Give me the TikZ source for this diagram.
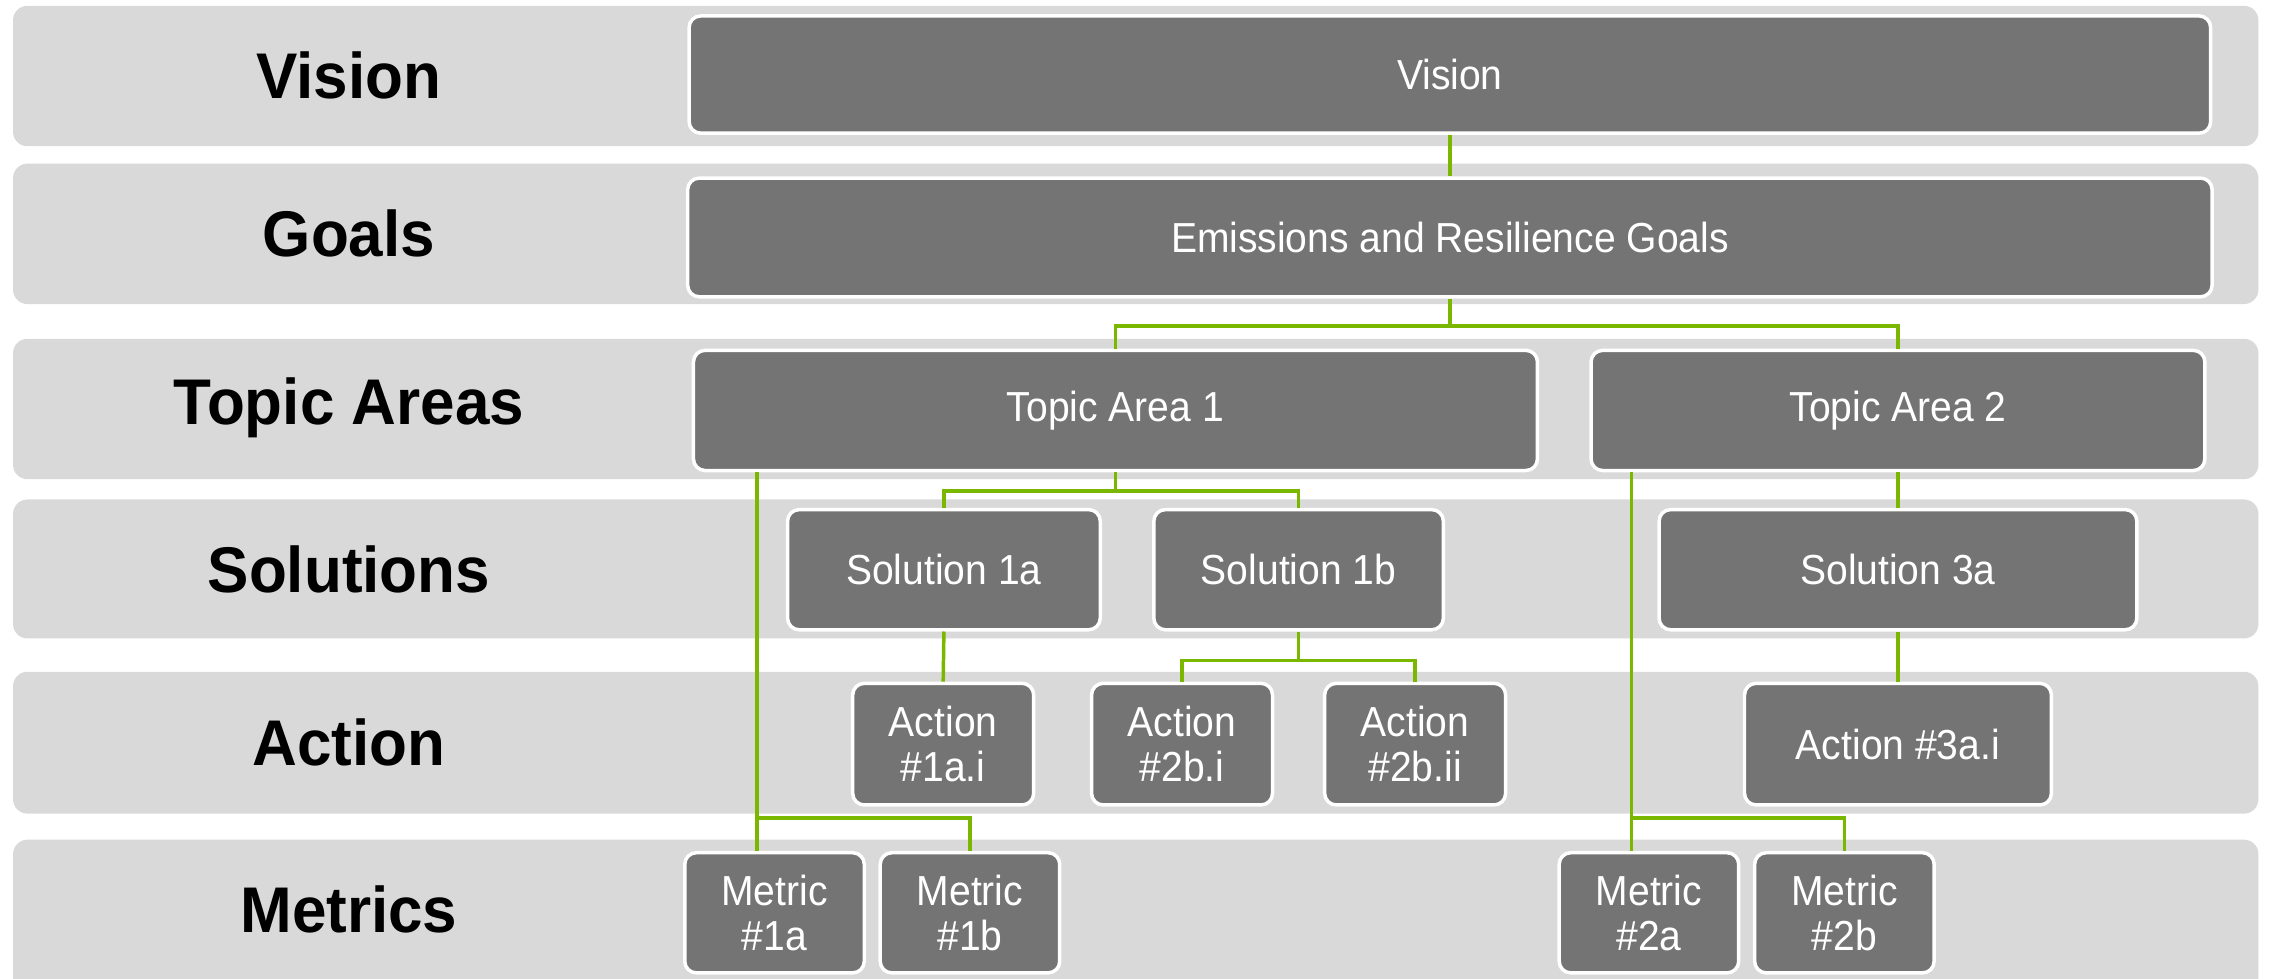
\documentclass[tikz,border=0pt]{standalone}
\usepackage{fontspec}
\setmainfont{Liberation Sans}
\newfontfamily\boxfont[FakeStretch=0.93]{Liberation Sans}
\newfontfamily\labelfont[FakeStretch=0.96]{Liberation Sans}
\definecolor{bandgray}{HTML}{D9D9D9}
\definecolor{boxgray}{HTML}{747474}
\definecolor{linkgreen}{RGB}{122,184,0}
\tikzset{
  band/.style={fill=bandgray, draw=none, rounded corners=5pt},
  bandlabel/.style={font=\labelfont\fontsize{22.3pt}{24pt}\selectfont\bfseries, text=black, anchor=center},
  box/.style={fill=boxgray, draw=white, line width=1.2pt, rounded corners=4pt,
    text=white, align=center, inner sep=0pt,
    font=\boxfont\fontsize{14.5pt}{15.5pt}\selectfont},
  conn/.style={draw=linkgreen, line width=1.2pt}
}
\newcommand\mybox[6]{%
  \node[box, minimum width={(#4-#2)*0.5pt}, minimum height={(#5-#3)*0.5pt}]
    (#1) at ({(#2+#4)/2},{(#3+#5)/2}) {#6};}
\begin{document}
\begin{tikzpicture}[x=0.5pt, y=-0.5pt]
\useasboundingbox (0,0) rectangle (1568,676);
\clip (0,0) rectangle (1568,676);
\fill[white] (0,0) rectangle (1568,676);
% bands
\path[band] (9,4) rectangle (1560,101);
\path[band] (9,113) rectangle (1560,210);
\path[band] (9,234) rectangle (1560,331);
\path[band] (9,345) rectangle (1560,441);
\path[band] (9,464) rectangle (1560,562);
\path[band] (9,580) rectangle (1560,700);
% band labels
\node[bandlabel] (lv) at (241,52) {Vision};
\node[bandlabel] (lg) at (241,161) {Goals};
\node[bandlabel] (lt) at (241,282) {Topic Areas};
\node[bandlabel] (ls) at (241,393) {Solutions};
\node[bandlabel] (la) at (241,513) {Action};
\node[bandlabel] (lm) at (241,628) {Metrics};
% boxes
\mybox{vision}{476}{11}{1527}{92}{Vision}
\mybox{goals}{475}{123}{1528}{205}{Emissions and Resilience Goals}
\mybox{ta1}{479}{242}{1062}{325}{Topic Area 1}
\mybox{ta2}{1099}{242}{1523}{325}{Topic Area 2}
\mybox{s1a}{544}{352}{760}{435}{Solution 1a}
\mybox{s1b}{797}{352}{997}{435}{Solution 1b}
\mybox{s3a}{1146}{352}{1476}{435}{Solution 3a}
\mybox{a1ai}{589}{472}{714}{556}{Action\\\#1a.i}
\mybox{a2bi}{754}{472}{879}{556}{Action\\\#2b.i}
\mybox{a2bii}{915}{472}{1040}{556}{Action\\\#2b.ii}
\mybox{a3ai}{1205}{472}{1417}{556}{Action \#3a.i}
\mybox{m1a}{473}{589}{597}{672}{Metric\\\#1a}
\mybox{m1b}{608}{589}{732}{672}{Metric\\\#1b}
\mybox{m2a}{1077}{589}{1201}{672}{Metric\\\#2a}
\mybox{m2b}{1212}{589}{1336}{672}{Metric\\\#2b}
% connectors
\draw[conn] (vision.south) -- (goals.north);
\draw[conn] (goals.south) -- ++(0,19) -| (ta1.north);
\draw[conn] (goals.south) -- ++(0,19) -| (ta2.north);
\draw[conn] (ta1.south) -- ++(0,13) -| (s1a.north);
\draw[conn] (ta1.south) -- ++(0,13) -| (s1b.north);
\draw[conn] (s1a.south) -- (a1ai.north);
\draw[conn] (s1b.south) -- ++(0,20) -| (a2bi.north);
\draw[conn] (s1b.south) -- ++(0,20) -| (a2bii.north);
\draw[conn] (ta2.south) -- (s3a.north);
\draw[conn] (s3a.south) -- (a3ai.north);
\coordinate (j1) at (523,565);
\coordinate (j2) at (1127,565);
\draw[conn] (ta1.south -| j1) -- (j1 |- m1a.north);
\draw[conn] (j1) -| (m1b.north);
\draw[conn] (ta2.south -| j2) -- (j2 |- m2a.north);
\draw[conn] (j2) -| (m2b.north);
\end{tikzpicture}
\end{document}
